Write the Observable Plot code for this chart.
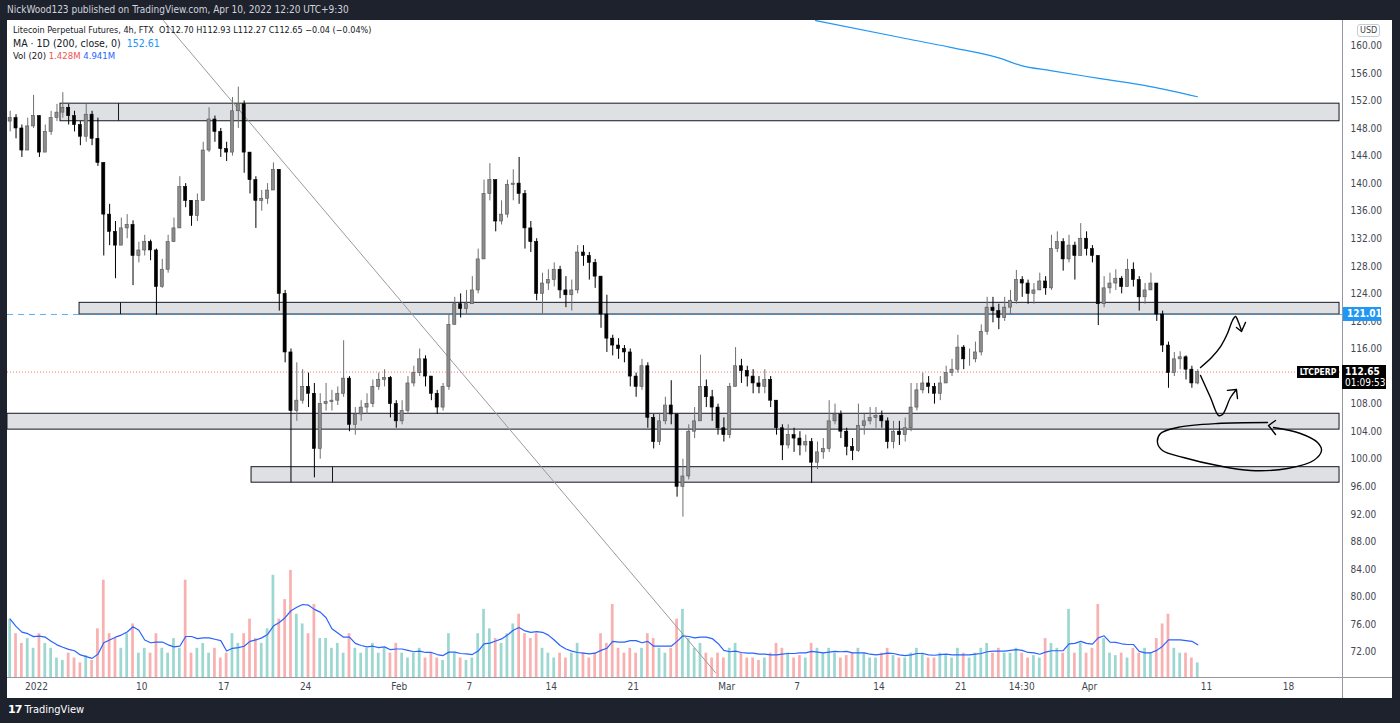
<!DOCTYPE html>
<html><head><meta charset="utf-8">
<script src="https://cdn.jsdelivr.net/npm/d3@7"></script>
<script src="https://cdn.jsdelivr.net/npm/@observablehq/plot@0.6"></script>
<style>
html,body{margin:0;padding:0;background:#1e222d;width:1400px;height:723px;overflow:hidden;}
#wrap{position:relative;width:1400px;height:723px;font-family:"Liberation Sans Narrow","DejaVu Sans Condensed","Liberation Sans",Arial,sans-serif;}
#panel{position:absolute;left:7px;top:20px;width:1385px;height:678px;background:#fff;}
.abs{position:absolute;left:0;top:0;}
.sep{position:absolute;background:#9598a1;}
.txt{position:absolute;white-space:nowrap;font-size:10px;line-height:12px;}
.box{position:absolute;white-space:nowrap;font-size:10px;line-height:11px;padding:1px 3px;box-sizing:border-box;overflow:hidden;}
</style></head>
<body><div id="wrap">
<div class="txt" style="left:7px;top:4px;color:#d1d4dc;">NickWood123 published on TradingView.com, Apr 10, 2022 12:20 UTC+9:30</div>
<div id="panel"></div>
<div id="vol" class="abs"></div>
<div id="main" class="abs"></div>
<div class="sep" style="left:1342px;top:20px;width:1px;height:678px;"></div>
<div class="sep" style="left:7px;top:677px;width:1385px;height:1px;"></div>
<div class="txt" style="left:13px;top:24px;color:#131722;font-size:9px;">Litecoin Perpetual Futures, 4h, FTX&nbsp;&nbsp;O112.70 H112.93 L112.27 C112.65 −0.04 (−0.04%)</div>
<div class="txt" style="left:13px;top:37px;color:#131722;font-size:10.5px;">MA · 1D (200, close, 0)&nbsp;&nbsp;<span style="color:#2196f3">152.61</span></div>
<div class="txt" style="left:13px;top:50px;color:#131722;font-size:9.5px;">Vol (20) <span style="color:#ef5350">1.428M</span> <span style="color:#2962ff">4.941M</span></div>
<div class="box" style="left:1357px;top:24px;color:#434651;border:1px solid #c8cbd2;border-radius:3px;font-size:9px;padding:0 2px;">USD</div>
<div id="labels"></div>
<div class="txt" style="left:8px;top:704px;color:#ffffff;font-size:11px;"><b style="letter-spacing:-1px;font-family:'DejaVu Sans',sans-serif;">17</b> TradingView</div>
</div>
<script>
// ---------- data ----------
const firstCandle = "2021-12-29T12:00:00Z"; // 12h candles
const closes = [149.5,148.0,144.8,148.3,149.8,144.5,147.5,149.5,150.3,151.0,
149.8,148.5,146.8,150.0,146.5,143,135.5,133,131,133.5,
134,129.5,130.3,131.5,130.3,125,127.5,131.5,133.5,139.5,
137.5,135.3,137.5,144.8,149.3,147.5,145,144.5,150.5,151.5,
144.5,140.5,137.5,137.8,139,142,124,115.5,107,108.5,
110.5,109.5,101.5,108,108.3,108.5,109.5,111.7,105,106.5,
107.5,108,110.5,111.5,111.8,108,105.5,107,111,112.5,
114.5,112,109.5,107.5,110.5,119.5,122.5,121.8,122.5,124.5,
129,138.5,140.5,134.5,135.5,139.8,140,138.5,133.5,131.5,
124,125.5,126,127.5,124.5,123.8,124.5,130,129.5,128.5,
126.5,121,117.5,116.5,116,115.5,112,110.5,113.5,106,
102.5,105.5,107.8,106.5,96,97.5,104,105.5,110.5,109,
107.5,104.5,103.5,110.5,113.5,112.8,112,111,110.5,111.5,
108.5,104.5,102,103.5,103,102,102.5,99.5,101,101.5,
105.5,106.5,104,101.8,101.2,104.8,105.5,106,106.3,105.5,
102.5,104,103.5,104.5,107.5,110,111,110.5,109.5,111,
112.5,113,116.2,114.5,114.5,115.5,118.5,122,121.5,120.5,
122,123,126,125.5,124,124.5,125.8,124.8,130.5,131.5,
129,131,129.5,132,130.5,129.5,122.5,124.8,125.5,126.2,
125,127.5,126,123.5,124.5,125.5,121,116.5,112.5,114.5,
114.8,113,111,112.65];
const highs = [150.5,150,148.5,149.5,152.8,149,148.5,150.5,151.5,153.2,
151.5,150.5,149,151.5,150.5,149.5,143,137,134.5,135,
135.5,134.6,131.5,132.5,131.8,130.5,129,132.5,135,141,
140,137.5,138.5,146,151,149.8,148,146,152.5,154,
152,144.5,141,139,140,143,142,124.5,116,114,
113,112.5,111,109.5,111,110,110.5,117.2,112,107.5,
108.5,109.5,111.5,112.5,113,112,108.5,108.5,112,113.5,
116,115,112,110,111,121,123.5,124,124.5,126.5,
130.5,140.5,142.9,138,137.5,140.5,142,143.8,139,134.5,
132,127,127.5,128.5,128,126.5,126,131,131,130,
129,126.5,123.8,118,117.5,116.5,116,112.5,114.5,114,
106.5,106.5,109,111.4,106,100,105,107.5,115.1,111.5,
110,108,106,111,116.2,114.5,113.5,113,112,113,
112,108.5,105,105,104.5,104,103.5,103,102.5,103,
108.5,108,107,104.5,103,108,106.5,107.5,107.5,107,
106,105.5,105.5,106,111,111,112.5,112,111,112,
113.5,114.5,118,116.5,116,117,119.5,123.5,123.5,122.5,
123.5,124.5,127.4,126.5,126,125.5,127,126.5,132.5,133,
132,132.5,131.5,134.2,133,131,129.5,126.5,127,127.5,
126.5,129,128.5,126.5,125.5,127,125.5,121.5,117,115.5,
115.6,115,113.5,113];
const lows = [147.5,146.5,143.8,146.5,148,143.8,145.5,147,149,149.5,
148.5,147.5,145.5,146,145.5,142.5,129.5,131,126.2,131.5,
132,125.2,128.5,129.5,128.8,120.9,124.8,127,131.5,134,
136.5,133.8,134.5,137.5,144.5,146,143.8,143.2,144,148,
141.5,138.5,133.5,136,137,139,121.5,114,96.6,105.5,
108,107.5,97.3,100,107,107,107.8,109,104,103.5,
105.5,106.5,107.5,110,110.5,106,104.5,105,106.5,110.5,
112,110.5,108.5,106.5,107,110,119.5,120.5,121,122.5,
124,129,137.5,133,134,135,137.5,137,130.5,130,
123,121,124.5,125,123.3,122,121.5,124,128,126,
124.8,119,115.5,115,114.5,114,110.5,109,110,104.5,
101.5,102,105,105,94.5,91.6,97,103,107,107.5,
105.5,103.5,102.5,103,110.5,111,110.5,109.5,109.5,109.5,
107.5,103.5,99.8,101.5,101,100.5,101,96.5,98.5,100,
101,105,103,100.5,99.8,101,103.5,105,104.5,104.5,
101.5,101.5,102,102.5,104,107,109.5,109.5,108,108.5,
111,112,112.5,113,113.5,114,115,118,119.8,118.8,
120,121,122.5,123.5,122.5,122.5,124.5,123.8,124.5,130,
127.3,128.5,126,130,129.5,128.5,119.4,122,124,124.5,
124,125.5,125,121.5,122.5,124.5,120,115.5,110.3,112,
113,111.5,110.3,110.8];
const volumes = [12,9,7,8,6,9,7,6,
4,3.5,5,4,3,4.5,3.5,
10,20,9,8,6,9,11,
5,6,5,9,6,5,8,6,20,5,6,7,5,6,4,5,9,
7,9,12,8,7,10,21,12,16,
22,13,11,9,15,8,
8,6,7,5,9,6,5,6,7,5,6,5,7,5,
4,5,6,4,5,4,3.5,9,5,4,3.5,4,
9,14,10,8,7,9,11,13,9,8,
9,6,5,4,5,4,5,7,5,4,5,9,
7,15,6,5,6,5,6,9,8,6,5,6,12,14,8,6,7,
5,4,5,4,6,7,5,4,4,3.5,4,5,7,6,5,4,4.5,4,
7,6,5,6,5,4,4.5,5,6,5,4,4,5,6,4.5,4,4,
5,6,5,4,4,5,4.5,4,6,5,4,5,6,7,5,6,5,
5,6,5,4,4.5,4,8,7,6,5,14,5,7,5,6,15,8,
5,4.5,5,4,6,5,6,5,8,11,13,6,5,5,4,3];

// price axis ticks (112.00 is hidden under the last-price label) and time axis ticks
const priceTicks = [72,76,80,84,88,92,96,100,104,108,116,120,124,128,132,136,140,144,148,152,156,160];
const timeTicks = ["2022-01-01T00:00Z","2022-01-10T00:00Z","2022-01-17T00:00Z","2022-01-24T00:00Z","2022-02-01T00:00Z","2022-02-07T00:00Z","2022-02-14T00:00Z","2022-02-21T00:00Z","2022-03-01T00:00Z","2022-03-07T00:00Z","2022-03-14T00:00Z","2022-03-21T00:00Z","2022-03-26T05:00Z","2022-04-01T00:00Z","2022-04-11T00:00Z","2022-04-18T00:00Z"];
const timeLabels = ["2022","10","17","24","Feb","7","14","21","Mar","7","14","21","14:30","Apr","11","18"];

// drawings, as [day of 2022 (0 = Jan 1), price]
const zones = [
  {from:2.05, top:151.6, bottom:149.05},
  {from:3.68, top:122.7, bottom:121.0},
  {from:-2.48, top:106.6, bottom:104.3},
  {from:18.38, top:98.85, bottom:96.6}
];
const zoneDividers = [{at:7.01, top:151.6, bottom:149.05},{at:7.18, top:122.7, bottom:121.0},{at:25.3, top:98.85, bottom:96.6}];
const zoneEnd = 111.37;
const trendLine = [[10.85,163.67],[58.03,69.05]];
const ma200 = [[66.58,163.67],[73.85,161.2],[78.12,159.77],[82.39,158.17],[84.1,157.16],[86.67,156.4],[90.94,155.24],[95.21,154.08],[99.23,152.61]];
const arrowUp = [[99.49,113.32],[100.43,114.77],[101.2,116.36],[101.79,118.25],[102.22,120.14],[102.48,120.72],[102.74,119.85],[102.99,118.69]];
const arrowUpHead = [[102.56,119.12],[102.99,118.54],[103.33,119.85]];
const arrowDown = [[99.49,112.16],[100.34,108.96],[101.03,106.35],[101.37,106.5],[102.05,108.96],[102.56,110.12]];
const arrowDownHead = [[101.79,110.0],[102.56,110.12],[102.65,108.82]];
const loop = [[105.21,105.33],[100.94,105.19],[97.52,104.61],[96.07,103.74],[95.81,102.43],[96.24,101.27],[98.03,100.26],[100.94,99.09],[103.76,98.37],[106.92,98.66],[109.15,99.82],[109.83,101.27],[109.49,102.43],[108.03,103.74],[105.73,104.61]];
const loopHead = [[105.9,105.62],[105.3,104.9],[105.9,103.59]];
const lastPrice = 112.65, lineLevel = 121.01;

// ---------- build ----------
const JAN1 = Date.UTC(2022,0,1), DAY = 864e5, H = 3600e3;
const dayToDate = d => new Date(JAN1 + d*DAY);
const t0 = new Date(firstCandle).getTime();
const candles = closes.map((c,i) => {
  const o = i === 0 ? 149.0 : closes[i-1];
  const t = t0 + i*12*H;
  return {t: new Date(t+6*H), ta: new Date(t+2.8*H), tb: new Date(t+9.2*H), va: new Date(t+3.2*H), vb: new Date(t+8.8*H),
    open:o, close:c, high:Math.max(highs[i],o,c), low:Math.min(lows[i],o,c), vol:volumes[i], up:c>=o};
});
const pts = arr => arr.map(([d,p]) => ({x: dayToDate(d), y: p}));
const xDomain = [dayToDate((7-36)/11.70), dayToDate((1342-36)/11.70)];
const common = {width:1400, height:723, marginLeft:7, marginRight:58, marginTop:20, marginBottom:46,
  style:{background:"transparent", fontFamily:"'Liberation Sans Narrow','DejaVu Sans Condensed','Liberation Sans',Arial,sans-serif", fontSize:"10px"}};

// volume pane (own y scale, no axes)
const volPlot = Plot.plot({...common,
  x:{type:"utc", domain:xDomain, axis:null},
  y:{domain:[0,135], axis:null},
  marks:[
    Plot.rect(candles, {x1:"va", x2:"vb", y1:0, y2:"vol", fill:d=>d.up?"#26a69a":"#ef5350", fillOpacity:0.45}),
    Plot.lineY(candles, Plot.windowY({k:7, anchor:"end"}, {x:"t", y:"vol", stroke:"#2962ff", strokeWidth:1.2}))
  ]});
document.getElementById("vol").appendChild(volPlot);

const zoneRows = zones.map(z => ({x1:dayToDate(z.from), x2:dayToDate(zoneEnd), y1:z.bottom, y2:z.top}));
const divRows = zoneDividers.map(z => ({x:dayToDate(z.at), y1:z.bottom, y2:z.top}));
const tickDates = timeTicks.map(s => new Date(s));
const labelFor = new Map(tickDates.map((d,i)=>[d.getTime(), timeLabels[i]]));

const mainPlot = Plot.plot({...common,
  x:{type:"utc", domain:xDomain},
  y:{domain:[68.33,163.67]},
  marks:[
    Plot.rect(zoneRows, {x1:"x1", x2:"x2", y1:"y1", y2:"y2", fill:"#dfe0e3", stroke:"#131722", strokeWidth:1}),
    Plot.ruleX(divRows, {x:"x", y1:"y1", y2:"y2", stroke:"#131722", strokeWidth:1}),
    Plot.ruleY([lineLevel], {stroke:"#2196f3", strokeOpacity:0.75, strokeDasharray:"6,5"}),
    Plot.ruleY([lastPrice], {stroke:"#ef5350", strokeOpacity:0.8, strokeDasharray:"1,2"}),
    Plot.line(pts(trendLine), {x:"x", y:"y", stroke:"#9a9a9a", strokeWidth:1, clip:true}),
    Plot.line(pts(ma200), {x:"x", y:"y", stroke:"#2196f3", strokeWidth:1.2, curve:"monotone-x", clip:true}),
    Plot.ruleX(candles, {x:"t", y1:"low", y2:"high", stroke:d=>d.up?"#6f6f6f":"#000000", strokeWidth:1}),
    Plot.rect(candles, {x1:"ta", x2:"tb", y1:"open", y2:"close", fill:d=>d.up?"#8c8c8c":"#000000", stroke:d=>d.up?"#555555":"#000000", strokeWidth:0.6}),
    Plot.line(pts(arrowUp), {x:"x", y:"y", stroke:"#000", strokeWidth:1.4, curve:"catmull-rom"}),
    Plot.line(pts(arrowUpHead), {x:"x", y:"y", stroke:"#000", strokeWidth:1.4}),
    Plot.line(pts(arrowDown), {x:"x", y:"y", stroke:"#000", strokeWidth:1.4, curve:"catmull-rom"}),
    Plot.line(pts(arrowDownHead), {x:"x", y:"y", stroke:"#000", strokeWidth:1.4}),
    Plot.line(pts(loop), {x:"x", y:"y", stroke:"#000", strokeWidth:1.4, curve:"catmull-rom"}),
    Plot.line(pts(loopHead), {x:"x", y:"y", stroke:"#000", strokeWidth:1.4}),
    Plot.axisY({anchor:"right", ticks:priceTicks, tickFormat:d=>d.toFixed(2), tickSize:0, tickPadding:8, fill:"#434651", label:null}),
    Plot.axisX({anchor:"bottom", ticks:tickDates, tickFormat:d=>labelFor.get(d.getTime()), tickSize:0, tickPadding:5, fill:"#434651", label:null})
  ]});
document.getElementById("main").appendChild(mainPlot);

// price labels on the axis, placed with the plot's own y scale
const ys = mainPlot.scale("y");
const lab = document.getElementById("labels");
function addBox(html, pos, yCenter, h, style){
  const d = document.createElement("div");
  d.className = "box";
  d.innerHTML = html;
  d.style.cssText += `${pos}top:${yCenter - h/2}px;height:${h}px;${style}`;
  lab.appendChild(d);
}
addBox("121.01", "left:1343px;", ys.apply(lineLevel), 14, "background:#2196f3;color:#fff;width:38px;font-weight:bold;padding:1px 4px;");
addBox("LTCPERP", "left:1297px;", ys.apply(lastPrice), 12, "background:#000;color:#fff;font-weight:bold;font-size:8.5px;width:42px;padding:0 2px;line-height:12px;text-align:center;");
addBox("<b>112.65</b><br>01:09:53", "left:1342px;", ys.apply(lastPrice)+5.5, 24, "background:#000;color:#fff;width:44px;padding:1px 3px;");
</script>
</body></html>
